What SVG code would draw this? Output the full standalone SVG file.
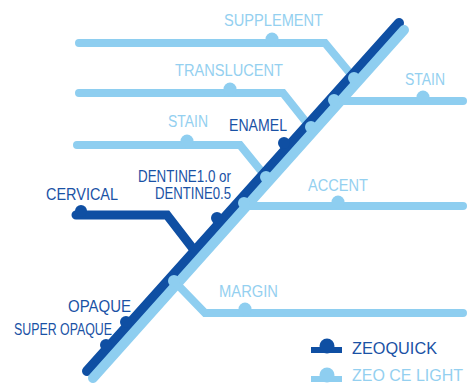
<svg xmlns="http://www.w3.org/2000/svg" width="469" height="384" viewBox="0 0 469 384">
<style>
.lb{fill:none;stroke:#8ecef0;stroke-width:8;stroke-linecap:round;stroke-linejoin:miter}
.db{fill:none;stroke:#0f4fa3;stroke-width:9;stroke-linecap:round;stroke-linejoin:miter}
.dm{fill:none;stroke:#0f4fa3;stroke-width:10;stroke-linecap:round}
.lm{fill:none;stroke:#8ecef0;stroke-width:10;stroke-linecap:round}
.ld{fill:#8ecef0}
.dd{fill:#0f4fa3}
text{font-family:"Liberation Sans",Arial,sans-serif;font-size:16px}
.lt{fill:#94d0f0}
.dt{fill:#1a52a5}
</style>
<g id="connectors">
<path class="lb" d="M79,43 H325 L354,78"/>
<path class="lb" d="M79,93 H283 L310,127"/>
<path class="lb" d="M77,145 H240 L266,177"/>
<path class="lb" d="M340,101 H463"/>
<path class="lb" d="M247,206 H463"/>
<path class="lb" d="M174,281 L205,313 H463"/>
<path class="db" d="M76,215 H167 L194,250"/>
<path class="dm" d="M399,23 L87,371"/>
<path class="lm" d="M404,30 L93,378"/>
</g>
<g id="supplement"><circle class="ld" cx="272" cy="39" r="6.5"/><text class="lt" x="224" y="26" textLength="99" lengthAdjust="spacingAndGlyphs">SUPPLEMENT</text><circle class="ld" cx="354" cy="78" r="6"/></g>
<g id="translucent"><circle class="ld" cx="230" cy="89" r="6.5"/><text class="lt" x="175" y="76" textLength="108" lengthAdjust="spacingAndGlyphs">TRANSLUCENT</text><circle class="ld" cx="311" cy="127" r="6"/></g>
<g id="stain-left"><circle class="ld" cx="187" cy="141" r="6.5"/><text class="lt" x="168" y="127" textLength="40" lengthAdjust="spacingAndGlyphs">STAIN</text><circle class="ld" cx="266" cy="177" r="6"/></g>
<g id="stain-right"><circle class="ld" cx="423" cy="97" r="6.5"/><text class="lt" x="405" y="85" textLength="40" lengthAdjust="spacingAndGlyphs">STAIN</text><circle class="ld" cx="334" cy="100" r="6"/></g>
<g id="accent"><circle class="ld" cx="338" cy="202" r="6.5"/><text class="lt" x="308" y="191" textLength="60" lengthAdjust="spacingAndGlyphs">ACCENT</text><circle class="ld" cx="244" cy="203" r="6"/></g>
<g id="margin"><circle class="ld" cx="245" cy="309" r="6.5"/><text class="lt" x="219" y="297" textLength="59" lengthAdjust="spacingAndGlyphs">MARGIN</text><circle class="ld" cx="174" cy="281" r="6"/></g>
<g id="enamel"><circle class="dd" cx="284" cy="143" r="6"/><text class="dt" x="229" y="131" textLength="58" lengthAdjust="spacingAndGlyphs">ENAMEL</text></g>
<g id="dentine"><circle class="dd" cx="217" cy="218" r="6"/><text class="dt" x="138" y="182" textLength="93" lengthAdjust="spacingAndGlyphs">DENTINE1.0 or</text><text class="dt" x="155" y="199" textLength="76" lengthAdjust="spacingAndGlyphs">DENTINE0.5</text></g>
<g id="cervical"><circle class="dd" cx="81" cy="211" r="6"/><text class="dt" x="46" y="200" textLength="72" lengthAdjust="spacingAndGlyphs">CERVICAL</text></g>
<g id="opaque"><circle class="dd" cx="126" cy="322" r="6"/><text class="dt" x="68" y="312" textLength="63" lengthAdjust="spacingAndGlyphs">OPAQUE</text></g>
<g id="super-opaque"><circle class="dd" cx="106" cy="345" r="6"/><text class="dt" x="14" y="335" textLength="98" lengthAdjust="spacingAndGlyphs">SUPER OPAQUE</text></g>
<g id="legend-zeoquick"><circle class="dd" cx="327" cy="346" r="7.5"/><rect class="dd" x="311" y="347" width="31" height="6"/><text class="dt" x="352" y="354" font-size="17" textLength="85" lengthAdjust="spacingAndGlyphs" style="font-size:17px">ZEOQUICK</text></g>
<g id="legend-zeo-ce-light"><circle class="ld" cx="327" cy="375" r="7.5"/><rect class="ld" x="311" y="376" width="31" height="6"/><text class="lt" x="352" y="381" textLength="111" lengthAdjust="spacingAndGlyphs" style="font-size:17px">ZEO CE LIGHT</text></g>
</svg>
